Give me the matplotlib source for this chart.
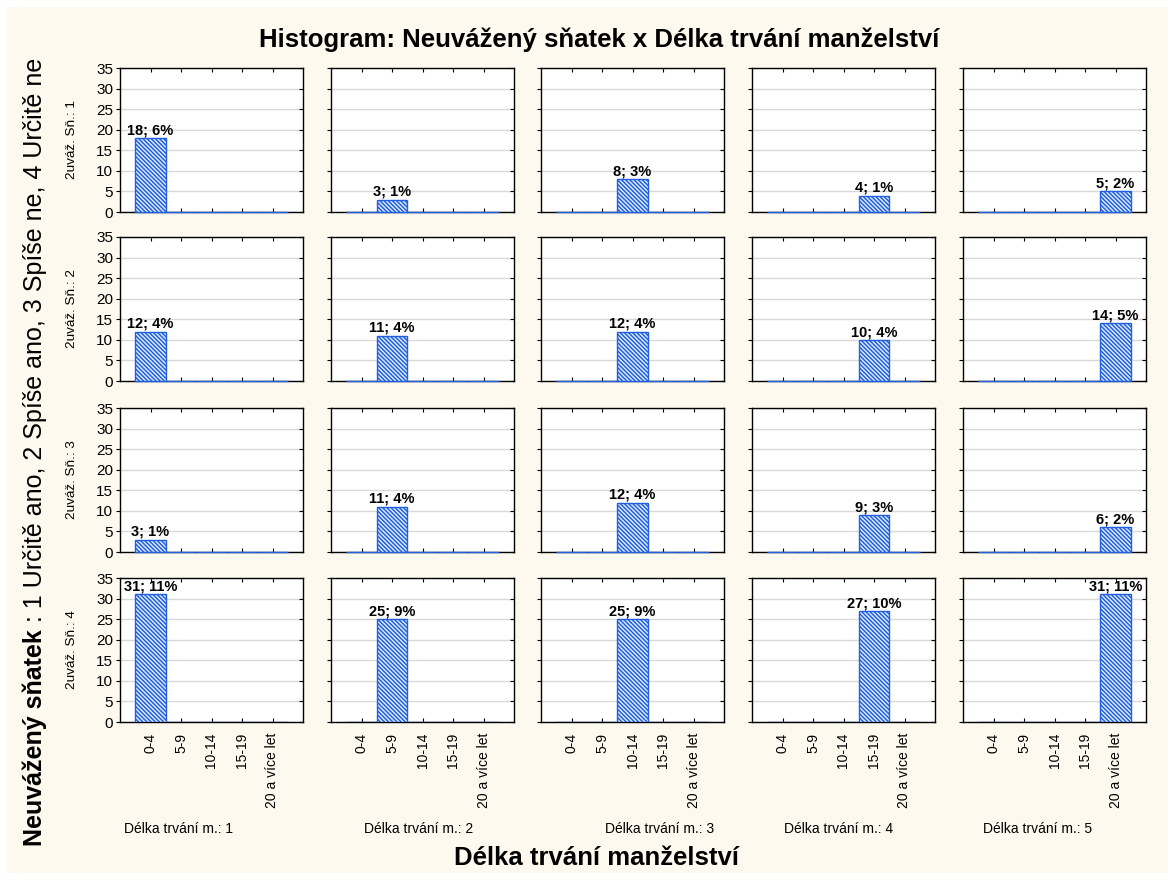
import matplotlib
matplotlib.use("Agg")
import matplotlib.pyplot as plt
from matplotlib.patches import Rectangle
from matplotlib import markers

plt.rcParams['font.family'] = ['Liberation Sans', 'DejaVu Sans']
plt.rcParams['hatch.linewidth'] = 1.1
plt.rcParams['hatch.color'] = '#3a82ff'

categories = ["0-4", "5-9", "10-14", "15-19", "20 a více let"]
row_labels = ["2uváž. Sň.: 1", "2uváž. Sň.: 2", "2uváž. Sň.: 3", "2uváž. Sň.: 4"]
col_labels = ["Délka trvání m.: 1", "Délka trvání m.: 2", "Délka trvání m.: 3",
              "Délka trvání m.: 4", "Délka trvání m.: 5"]
# counts per (row, column): each panel has one non-zero category = column index
counts = [
    [18, 3, 8, 4, 5],
    [12, 11, 12, 10, 14],
    [3, 11, 12, 9, 6],
    [31, 25, 25, 27, 31],
]
percents = [
    [6, 1, 3, 1, 2],
    [4, 4, 4, 4, 5],
    [1, 4, 4, 3, 2],
    [11, 9, 9, 10, 11],
]
title = "Histogram: Neuvážený sňatek x Délka trvání manželství"
xlabel = "Délka trvání manželství"
ylabel_bold = "Neuvážený sňatek"
ylabel_rest = " : 1 Určitě ano, 2 Spíše ano, 3 Spíše ne, 4 Určitě ne"

W, H = 1175, 880
fig = plt.figure(figsize=(W / 100, H / 100), dpi=100)
fig.patch.set_facecolor('white')
fig.patches.append(Rectangle((7 / W, 7 / H), (1168 - 7) / W, (873 - 7) / H,
                             transform=fig.transFigure, facecolor='#fdf9ee',
                             edgecolor='none', zorder=-10))

col_left = [120, 331, 541, 752, 963]
row_top = [68, 237, 408, 578]
aw, ah = 183, 144
col_label_x = [178, 419, 660, 839, 1038]

for r in range(4):
    for c in range(5):
        ax = fig.add_axes([col_left[c] / W, 1 - (row_top[r] + ah) / H, aw / W, ah / H])
        ax.set_facecolor('white')
        vals = [counts[r][c] if i == c else 0 for i in range(5)]
        bars = ax.bar(range(5), vals, width=1.0, facecolor='#e6efff', edgecolor='#1f5fe0',
                      hatch='\\\\\\\\\\\\\\\\', linewidth=1.0, zorder=3)
        if r < 3:
            for b in bars:
                b.set_clip_on(False)
        ax.text(c, counts[r][c] + 0.2, f"{counts[r][c]}; {percents[r][c]}%",
                ha='center', va='bottom', fontsize=10.5, fontweight='bold', zorder=4)
        ax.set_xlim(-1, 5)
        ax.set_ylim(0, 35)
        ax.set_yticks(range(0, 36, 5))
        ax.set_xticks(range(5))
        ax.yaxis.grid(True, color='#d9d9d9', linewidth=1.0, zorder=0)
        ax.set_axisbelow(True)
        ax.tick_params(axis='y', labelsize=11, direction='out', length=3, pad=2,
                       right=True)
        for t in ax.yaxis.get_major_ticks():
            t.tick2line.set_marker(markers.TICKLEFT)
        ax.tick_params(axis='x', direction='in', length=3, top=True)
        for sp in ax.spines.values():
            sp.set_linewidth(1.0)
        if c != 0:
            ax.set_yticklabels([])
        if r == 3:
            ax.set_xticklabels(categories, rotation=90, fontsize=10)
            ax.tick_params(axis='x', pad=8)
        else:
            ax.set_xticklabels([])
        if c == 0:
            fig.text(72 / W, 1 - (row_top[r] + ah / 2) / H, row_labels[r],
                     rotation=90, ha='center', va='center', fontsize=9.7)
        if r == 3:
            fig.text(col_label_x[c] / W, 1 - 829 / H, col_labels[c],
                     ha='center', va='center', fontsize=10)

fig.text(599 / W, 1 - 40 / H, title, ha='center', va='center', fontsize=18.5,
         fontweight='bold')
fig.text(597 / W, 1 - 858 / H, xlabel, ha='center', va='center', fontsize=18.5,
         fontweight='bold')

# y label with bold + regular parts, stacked vertically
renderer = fig.canvas.get_renderer()
y_bottom = 1 - 846 / H
t1 = fig.text(35 / W, y_bottom, ylabel_bold, rotation=90, ha='center', va='bottom',
              fontsize=18, fontweight='bold')
bb = t1.get_window_extent(renderer=renderer)
y2 = bb.y1 / fig.bbox.height
fig.text(35 / W, y2, ylabel_rest, rotation=90, ha='center', va='bottom',
         fontsize=18)

fig.savefig("out.png", dpi=100, facecolor=fig.get_facecolor())
